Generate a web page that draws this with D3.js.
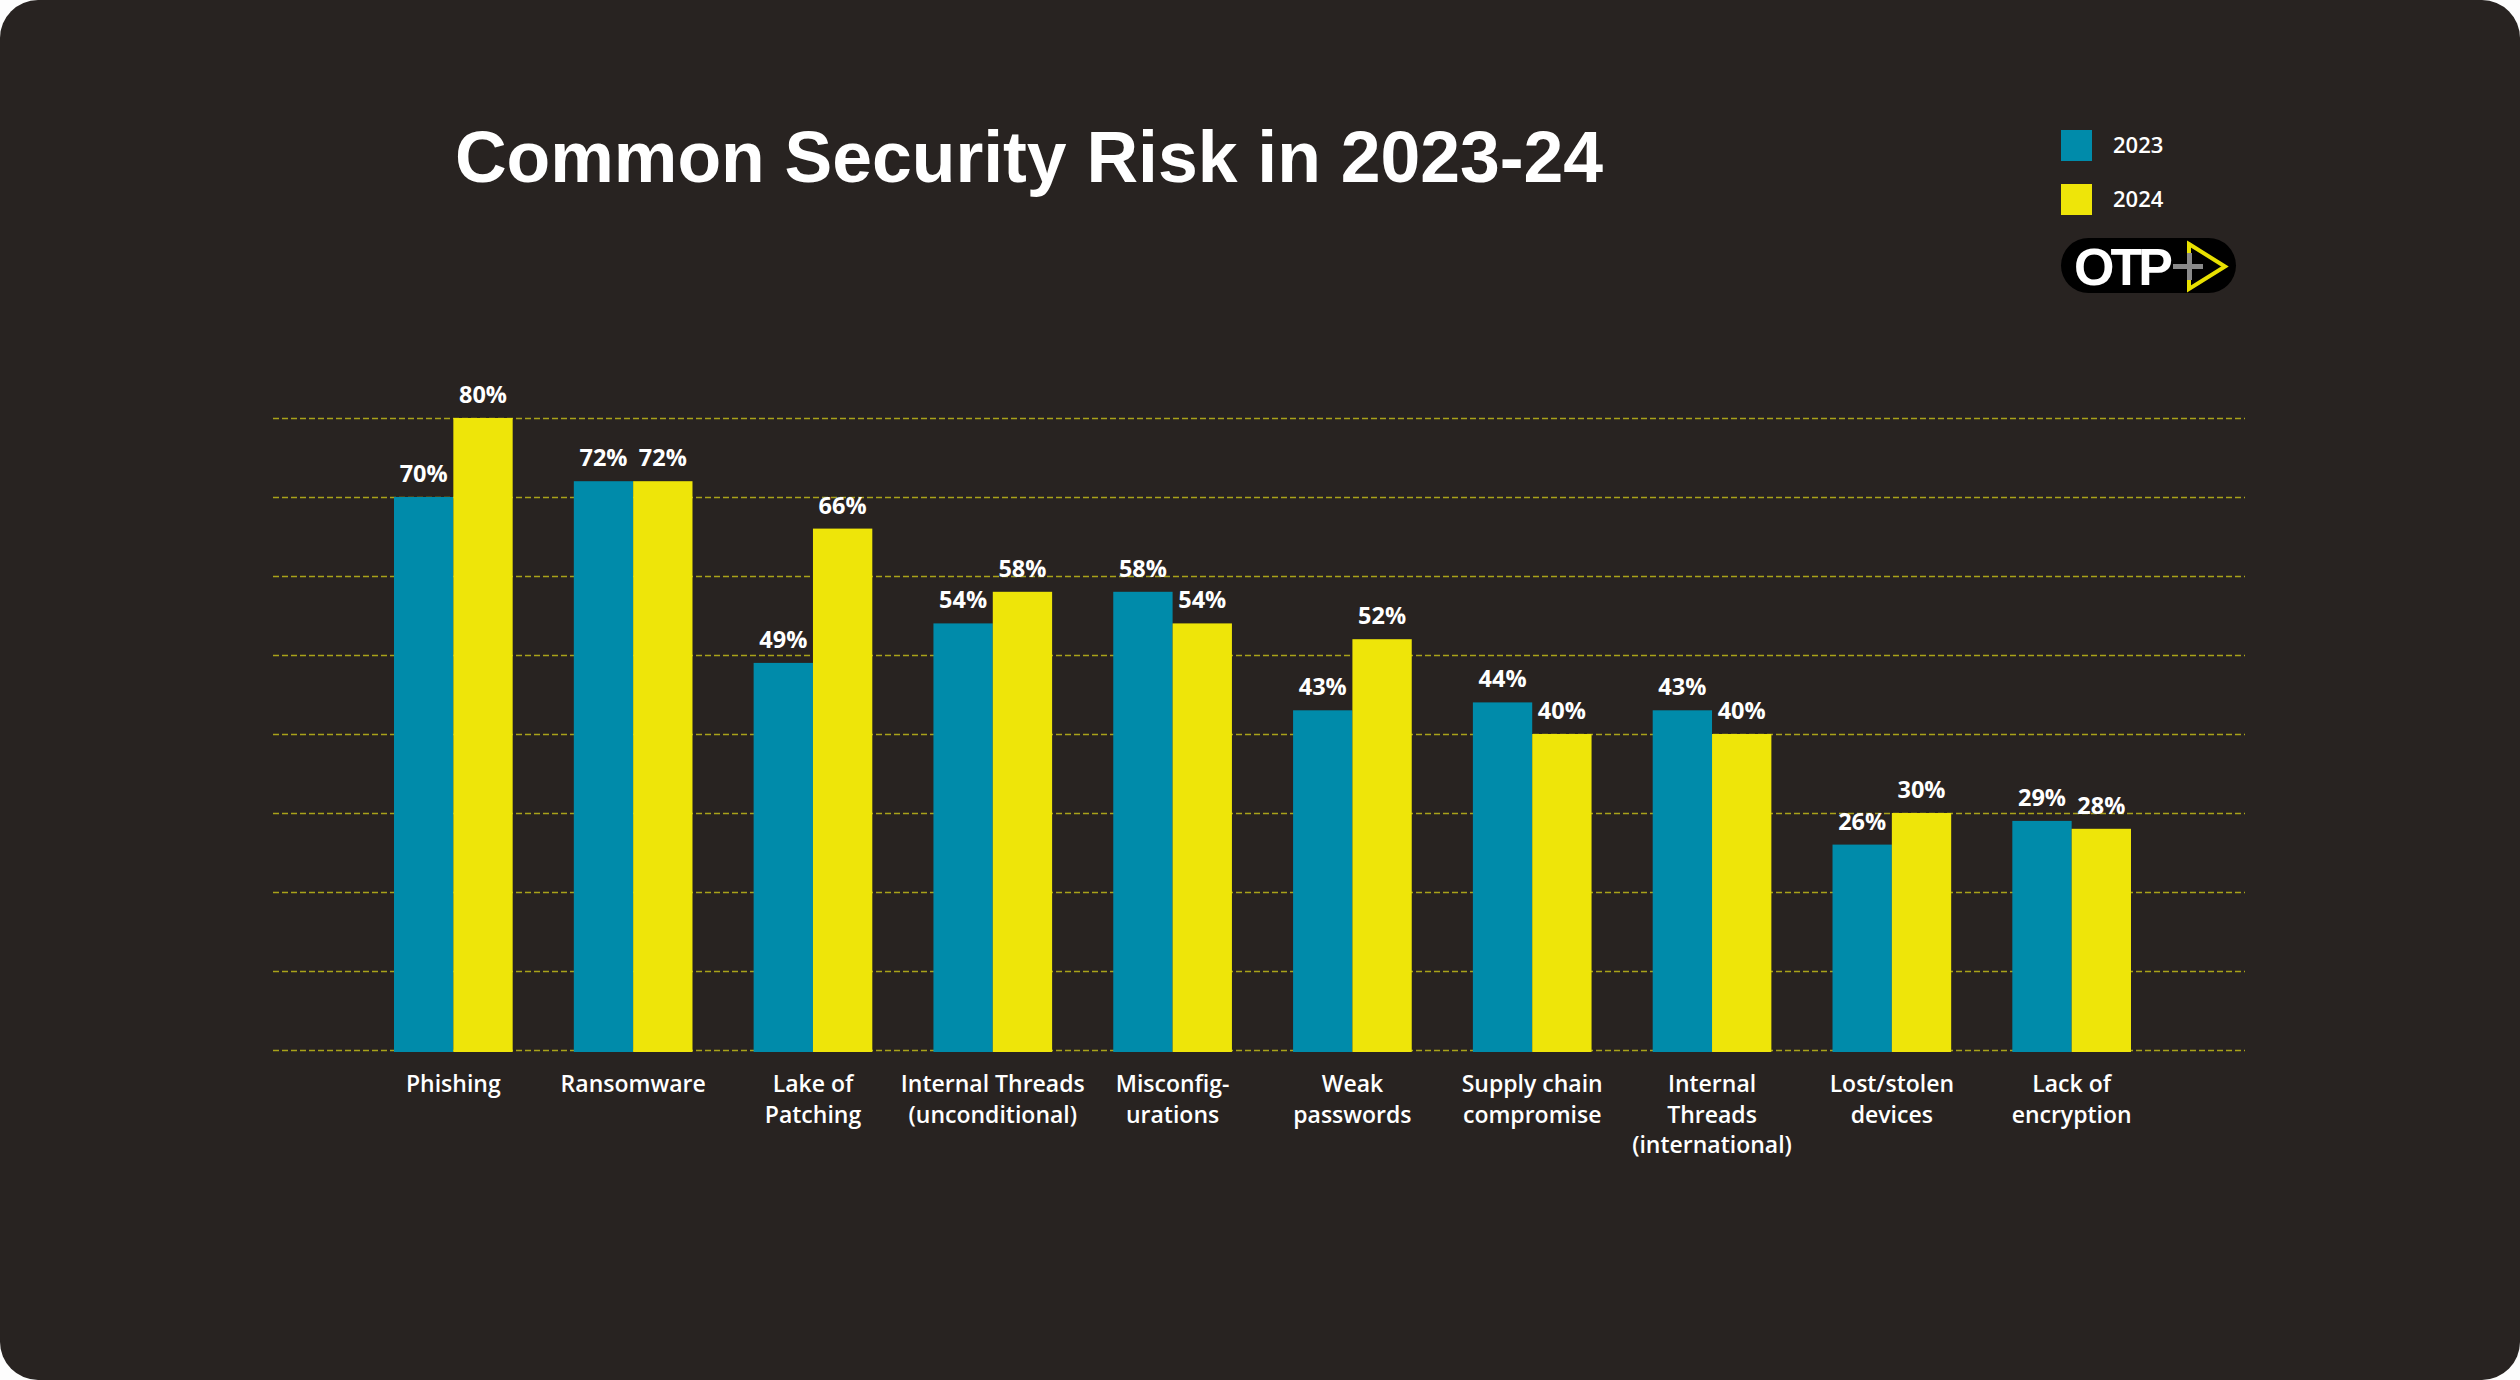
<!DOCTYPE html>
<html>
<head>
<meta charset="utf-8">
<script src="https://cdn.jsdelivr.net/npm/d3@7"></script>
<style>
  html, body { margin: 0; padding: 0; background: #fdfdfd; }
  svg { display: block; }
</style>
</head>
<body>
<svg id="chart" width="2520" height="1380"></svg>
<script>
// ---- data ----
const categories = [
  ["Phishing"],
  ["Ransomware"],
  ["Lake of", "Patching"],
  ["Internal Threads", "(unconditional)"],
  ["Misconfig-", "urations"],
  ["Weak", "passwords"],
  ["Supply chain", "compromise"],
  ["Internal", "Threads", "(international)"],
  ["Lost/stolen", "devices"],
  ["Lack of", "encryption"]
];
const seriesNames = ["2023", "2024"];
const values2023 = [70, 72, 49, 54, 58, 43, 44, 43, 26, 29];
const values2024 = [80, 72, 66, 58, 54, 52, 40, 40, 30, 28];
const gridTicks = [0, 10, 20, 30, 40, 50, 60, 70, 80];
const titleText = "Common Security Risk in 2023-24";

// ---- styles ----
const W = 2520, H = 1380;
const BG = "#282321";
const BLUE = "#008BAA";
const YELLOW = "#EEE509";
const GRID = "#a9a21a";

const svg = d3.select("#chart");

// card background
svg.append("rect").attr("x", 0).attr("y", 0).attr("width", W).attr("height", H)
  .attr("rx", 38).attr("ry", 38).attr("fill", BG);

// scales
const keys = categories.map((d, i) => i);
const x0 = d3.scaleBand().domain(keys).range([394, 2131]).paddingInner(0.34).paddingOuter(0);
const x1 = d3.scaleBand().domain(seriesNames).range([0, x0.bandwidth()]).padding(0);
const y = d3.scaleLinear().domain([0, 80]).range([1050, 418]);
const color = d3.scaleOrdinal().domain(seriesNames).range([BLUE, YELLOW]);

// gridlines
svg.append("g").selectAll("line").data(gridTicks).join("line")
  .attr("x1", 273).attr("x2", 2245)
  .attr("y1", d => Math.round(y(d)) + 0.5).attr("y2", d => Math.round(y(d)) + 0.5)
  .attr("stroke", GRID).attr("stroke-width", 1.6)
  .attr("stroke-dasharray", "6,3");

// bars
const rows = keys.map(i => ({ i, vals: [
  { key: "2023", v: values2023[i] },
  { key: "2024", v: values2024[i] }
]}));

const groups = svg.append("g").selectAll("g").data(rows).join("g")
  .attr("transform", d => `translate(${x0(d.i)},0)`);

groups.selectAll("rect").data(d => d.vals).join("rect")
  .attr("x", d => x1(d.key))
  .attr("y", d => y(d.v))
  .attr("width", x1.bandwidth())
  .attr("height", d => y(0) - y(d.v) + 2)
  .attr("fill", d => color(d.key));

groups.selectAll("text.val").data(d => d.vals).join("text")
  .attr("class", "val")
  .attr("x", d => x1(d.key) + x1.bandwidth() / 2)
  .attr("y", d => y(d.v) - 15)
  .attr("text-anchor", "middle")
  .attr("font-family", "'Open Sans', sans-serif")
  .attr("font-weight", 700)
  .attr("font-size", 23.5)
  .attr("fill", "#ffffff")
  .text(d => d.v + "%");

// category labels
const catG = svg.append("g");
rows.forEach(r => {
  const cx = x0(r.i) + x0.bandwidth() / 2;
  const t = catG.append("text")
    .attr("x", cx)
    .attr("y", 1092)
    .attr("text-anchor", "middle")
    .attr("font-family", "'Open Sans', sans-serif")
    .attr("font-weight", 600)
    .attr("font-size", 23)
    .attr("fill", "#ffffff");
  categories[r.i].forEach((line, k) => {
    t.append("tspan").attr("x", cx).attr("y", 1092 + k * 30.5).text(line);
  });
});

// title
svg.append("text")
  .attr("x", 455).attr("y", 182)
  .attr("font-family", "'Liberation Sans', Arial, sans-serif")
  .attr("font-weight", 700)
  .attr("font-size", 72)
  .attr("textLength", 1148)
  .attr("lengthAdjust", "spacingAndGlyphs")
  .attr("fill", "#ffffff")
  .text(titleText);

// legend
const leg = svg.append("g").selectAll("g").data(seriesNames).join("g")
  .attr("transform", (d, i) => `translate(2061,${130 + i * 54})`);
leg.append("rect").attr("width", 31).attr("height", 31).attr("fill", d => color(d));
leg.append("text").attr("x", 52).attr("y", 23)
  .attr("font-family", "'Open Sans', sans-serif")
  .attr("font-weight", 600)
  .attr("font-size", 22)
  .attr("fill", "#ffffff")
  .text(d => d);

// logo
const logo = svg.append("g");
logo.append("rect").attr("x", 2061).attr("y", 238).attr("width", 175).attr("height", 55)
  .attr("rx", 27.5).attr("fill", "#000000");
logo.append("path")
  .attr("d", "M2189,244 L2225,266.5 L2189,289 Z")
  .attr("fill", "none").attr("stroke", "#E8E000").attr("stroke-width", 4)
  .attr("stroke-linejoin", "miter");
logo.append("text").attr("x", 2074).attr("y", 285)
  .attr("font-family", "'Liberation Sans', Arial, sans-serif")
  .attr("font-weight", 700)
  .attr("font-size", 52)
  .attr("textLength", 99)
  .attr("fill", "#ffffff")
  .text("OTP");
logo.append("rect").attr("x", 2173).attr("y", 264).attr("width", 30).attr("height", 5).attr("fill", "#8a8a8a");
logo.append("rect").attr("x", 2187).attr("y", 253).attr("width", 5).attr("height", 27).attr("fill", "#8a8a8a");
</script>
</body>
</html>
